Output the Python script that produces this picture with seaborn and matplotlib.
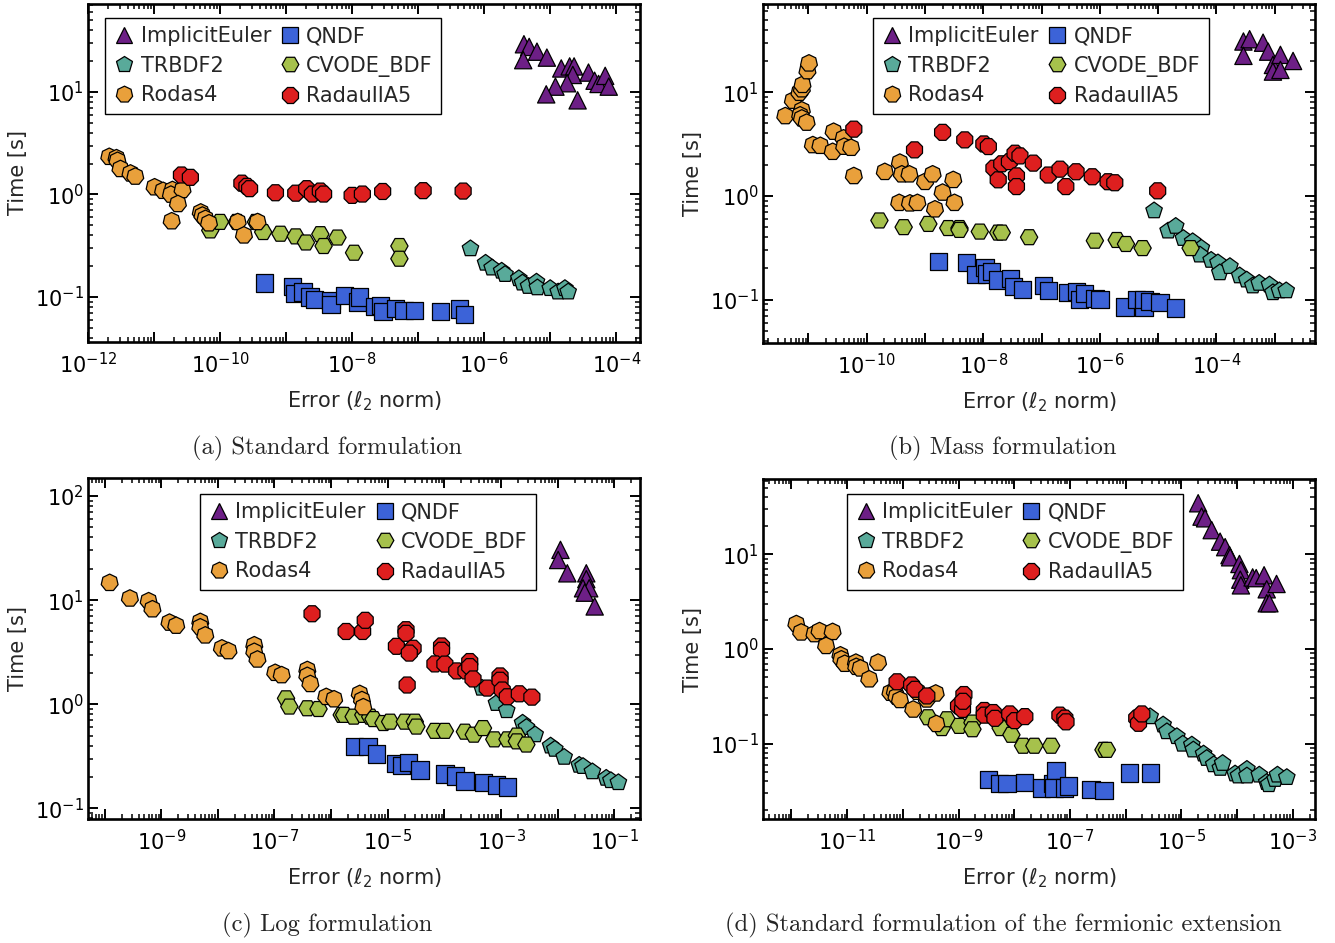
import numpy as np
import pandas as pd
import matplotlib
matplotlib.use("Agg")
import matplotlib.pyplot as plt
import matplotlib.ticker as mticker
from matplotlib.lines import Line2D
import seaborn as sns

# ---------------- data: panel (a) Standard formulation ----------------
a_ie_err = [4.0e-6, 4.8e-6, 3.9e-6, 6.3e-6, 8.9e-6, 1.47e-5, 1.97e-5, 2.3e-5, 2.2e-5, 1.8e-5,
            1.2e-5, 8.7e-6, 2.6e-5, 3.8e-5, 4.7e-5, 5.4e-5, 6.8e-5, 7.7e-5]
a_ie_time = [29.3, 27.6, 20.5, 24.8, 21.7, 17.0, 17.8, 17.8, 14.7, 12.2,
             11.3, 9.5, 8.3, 15.5, 12.9, 12.0, 14.4, 11.3]
a_qndf_err = [4.7e-10, 1.26e-9, 1.35e-9, 1.8e-9, 2.3e-9, 2.7e-9, 4.8e-9, 4.8e-9, 7.6e-9, 1.2e-8,
              1.3e-8, 2.2e-8, 2.7e-8, 2.95e-8, 4.5e-8, 6.1e-8, 8.7e-8, 2.2e-7, 4.2e-7, 5.0e-7]
a_qndf_time = [0.137, 0.127, 0.108, 0.112, 0.100, 0.094, 0.093, 0.085, 0.104, 0.089,
               0.100, 0.081, 0.083, 0.0715, 0.077, 0.074, 0.074, 0.0715, 0.076, 0.067]
a_trb_err = [6.2e-7, 1.05e-6, 1.32e-6, 1.84e-6, 2.07e-6, 3.35e-6, 3.8e-6, 4.7e-6, 6.2e-6, 6.4e-6,
             1.0e-5, 1.32e-5, 1.67e-5, 1.87e-5]
a_trb_time = [0.296, 0.214, 0.192, 0.179, 0.166, 0.151, 0.137, 0.127, 0.140, 0.123,
              0.121, 0.112, 0.121, 0.112]
a_cv_err = [7.1e-11, 1.0e-10, 1.8e-10, 3.5e-10, 4.5e-10, 8.2e-10, 1.4e-9, 2.0e-9, 3.3e-9, 3.7e-9,
            6.0e-9, 1.07e-8, 5.2e-8, 5.2e-8]
a_cv_time = [0.446, 0.54, 0.54, 0.54, 0.43, 0.414, 0.39, 0.34, 0.41, 0.314,
             0.38, 0.27, 0.314, 0.236]
a_rod_err = [2.1e-12, 2.7e-12, 2.8e-12, 3.1e-12, 4.4e-12, 5.2e-12, 1.02e-11, 1.37e-11, 1.9e-11, 1.8e-11,
             2.7e-11, 2.3e-11, 1.85e-11, 5.1e-11, 5.4e-11, 6.0e-11, 6.8e-11, 1.85e-10, 2.3e-10, 3.7e-10]
a_rod_time = [2.34, 2.27, 2.14, 1.78, 1.61, 1.50, 1.18, 1.09, 1.11, 1.00,
              1.11, 0.81, 0.55, 0.67, 0.625, 0.58, 0.525, 0.54, 0.40, 0.54]
a_rad_err = [2.6e-11, 3.55e-11, 2.14e-10, 2.55e-10, 2.8e-10, 6.9e-10, 1.4e-9, 2.05e-9, 2.5e-9, 3.3e-9,
             3.7e-9, 1.0e-8, 1.43e-8, 2.9e-8, 1.19e-7, 4.8e-7]
a_rad_time = [1.55, 1.47, 1.29, 1.20, 1.14, 1.04, 1.03, 1.14, 1.01, 1.08,
              1.01, 0.98, 1.01, 1.07, 1.09, 1.08]

# ---------------- data: panel (b) Mass formulation ----------------
b_ie_err = [2.9e-4, 3.7e-4, 2.9e-4, 6.3e-4, 7.7e-4, 9.3e-4, 1.25e-3, 9.3e-4, 1.25e-3, 2.06e-3]
b_ie_time = [30.8, 32.4, 22.4, 30.0, 24.6, 18.3, 22.9, 15.8, 16.4, 20.0]
b_qndf_err = [1.7e-9, 5.2e-9, 7.5e-9, 1.07e-8, 1.14e-8, 1.39e-8, 1.73e-8, 2.9e-8, 3.3e-8, 4.7e-8,
              1.07e-7, 1.3e-7, 2.85e-7, 4.0e-7, 4.5e-7, 5.5e-7, 8.2e-7, 1.0e-6, 2.7e-6, 4.3e-6,
              5.7e-6, 5.7e-6, 7.2e-6, 1.07e-5, 2.0e-5]
b_qndf_time = [0.232, 0.227, 0.176, 0.204, 0.177, 0.186, 0.155, 0.160, 0.133, 0.126,
               0.136, 0.122, 0.117, 0.120, 0.101, 0.115, 0.103, 0.100, 0.085, 0.100,
               0.085, 0.100, 0.096, 0.094, 0.083]
b_trb_err = [8.5e-6, 1.48e-5, 2.0e-5, 2.7e-5, 3.9e-5, 5.5e-5, 5.2e-5, 8.1e-5, 1.06e-4, 1.14e-4,
             1.7e-4, 2.5e-4, 3.3e-4, 4.2e-4, 5.4e-4, 8.1e-4, 9.3e-4, 1.2e-3, 1.57e-3]
b_trb_time = [0.72, 0.46, 0.51, 0.39, 0.363, 0.314, 0.27, 0.24, 0.227, 0.182,
              0.209, 0.17, 0.155, 0.136, 0.144, 0.139, 0.117, 0.122, 0.122]
b_cv_err = [1.65e-10, 4.3e-10, 1.14e-9, 2.5e-9, 3.9e-9, 3.9e-9, 8.7e-9, 1.8e-8, 2.07e-8, 6.1e-8,
            8.2e-7, 1.94e-6, 2.8e-6, 5.4e-6, 3.6e-5]
b_cv_time = [0.58, 0.50, 0.537, 0.49, 0.49, 0.47, 0.453, 0.443, 0.443, 0.40,
             0.37, 0.376, 0.344, 0.314, 0.314]
b_rod_err = [4.0e-12, 5.4e-12, 7.0e-12, 7.7e-12, 7.9e-12, 9.6e-12, 1.02e-11, 7.7e-12, 7.2e-12, 7.7e-12,
             9.3e-12, 1.19e-11, 1.6e-11, 2.7e-11, 2.6e-11, 4.0e-11, 4.1e-11, 5.4e-11, 6.0e-11, 2.04e-10,
             3.7e-10, 4.0e-10, 5.4e-10, 1.0e-9, 1.35e-9, 2.0e-9, 3.05e-9, 3.6e-10, 5.5e-10, 7.4e-10,
             1.48e-9, 3.2e-9]
b_rod_time = [5.9, 8.3, 9.9, 10.7, 11.8, 16.0, 19.0, 6.7, 6.0, 5.6,
              5.1, 3.1, 3.05, 4.17, 2.67, 3.6, 2.99, 2.92, 1.56, 1.71,
              2.1, 1.62, 1.62, 1.37, 1.62, 1.08, 1.43, 0.86, 0.85, 0.86,
              0.745, 0.86]
b_rad_err = [6.0e-11, 6.6e-10, 2.0e-9, 4.8e-9, 1.02e-8, 1.22e-8, 1.52e-8, 1.8e-8, 2.07e-8, 2.8e-8,
             3.5e-8, 3.7e-8, 3.7e-8, 4.25e-8, 7.2e-8, 1.3e-7, 2.07e-7, 2.6e-7, 3.9e-7, 7.4e-7,
             1.38e-6, 1.8e-6, 9.8e-6]
b_rad_time = [4.4, 2.78, 4.1, 3.47, 3.17, 2.99, 1.85, 1.43, 2.04, 2.14,
              2.58, 1.56, 1.23, 2.43, 2.07, 1.59, 1.81, 1.23, 1.71, 1.53,
              1.37, 1.34, 1.12]

# ---------------- data: panel (c) Log formulation ----------------
c_ie_err = [1.12e-2, 1.02e-2, 1.48e-2, 3.2e-2, 3.2e-2, 2.8e-2, 3.6e-2, 3.0e-2, 4.5e-2]
c_ie_time = [30.4, 24.3, 18.1, 18.1, 15.9, 13.0, 13.0, 11.8, 8.7]
c_qndf_err = [2.6e-6, 4.5e-6, 6.4e-6, 1.35e-5, 1.77e-5, 2.3e-5, 3.7e-5, 1.03e-4, 1.55e-4, 2.3e-4,
              4.9e-4, 8.4e-4, 1.3e-3]
c_qndf_time = [0.39, 0.39, 0.333, 0.271, 0.257, 0.275, 0.234, 0.214, 0.204, 0.183,
               0.177, 0.168, 0.160]
c_trb_err = [4.6e-4, 8.3e-4, 1.26e-3, 2.4e-3, 2.8e-3, 4.0e-3, 7.5e-3, 8.9e-3, 1.3e-2, 2.4e-2,
             2.8e-2, 4.1e-2, 7.2e-2, 8.7e-2, 0.118]
c_trb_time = [1.43, 1.02, 0.87, 0.66, 0.60, 0.51, 0.398, 0.37, 0.31, 0.26,
              0.253, 0.225, 0.195, 0.185, 0.177]
c_cv_err = [1.6e-7, 1.83e-7, 3.8e-7, 6.0e-7, 1.54e-6, 1.7e-6, 2.5e-6, 3.7e-6, 4.9e-6, 5.6e-6,
            8.4e-6, 1.1e-5, 2.0e-5, 3.0e-5, 3.2e-5, 6.8e-5, 1.02e-4, 2.3e-4, 3.3e-4, 4.8e-4,
            7.6e-4, 1.3e-3, 1.9e-3, 1.9e-3, 2.8e-3]
c_cv_time = [1.14, 0.95, 0.915, 0.90, 0.79, 0.79, 0.76, 0.79, 0.76, 0.72,
             0.66, 0.68, 0.68, 0.68, 0.61, 0.555, 0.555, 0.545, 0.51, 0.59,
             0.46, 0.46, 0.50, 0.44, 0.41]
c_rod_err = [1.23e-10, 2.8e-10, 6.0e-10, 7.0e-10, 1.4e-9, 1.84e-9, 4.9e-9, 4.9e-9, 6.0e-9, 1.18e-8,
             1.54e-8, 4.4e-8, 4.4e-8, 5.0e-8, 1.03e-7, 1.34e-7, 3.8e-7, 3.8e-7, 4.3e-7, 8.2e-7,
             1.13e-6, 3.2e-6, 3.5e-6, 3.7e-6]
c_rod_time = [14.7, 10.4, 9.8, 8.2, 6.1, 5.7, 6.2, 5.5, 4.6, 3.45,
              3.25, 3.7, 3.2, 2.7, 2.01, 1.91, 2.14, 1.88, 1.57, 1.18,
              1.12, 1.26, 1.10, 0.94]
c_rad_err = [4.6e-7, 1.84e-6, 3.6e-6, 4.0e-6, 1.42e-5, 2.1e-5, 2.1e-5, 2.8e-5, 2.4e-5, 2.2e-5,
             8.9e-5, 8.9e-5, 6.8e-5, 1.02e-4, 1.65e-4, 2.4e-4, 2.8e-4, 2.8e-4, 3.2e-4, 5.7e-4,
             9.6e-4, 9.6e-4, 1.05e-3, 1.29e-3, 2.1e-3, 3.5e-3]
c_rad_time = [7.4, 5.0, 5.0, 6.4, 3.6, 5.2, 4.8, 3.45, 3.1, 1.53,
              3.63, 3.3, 2.44, 2.43, 2.09, 2.09, 2.57, 2.3, 1.75, 1.43,
              1.87, 1.70, 1.37, 1.18, 1.26, 1.17]

# ---------------- data: panel (d) Standard formulation, fermionic extension ----------------
d_ie_err = [2.0e-5, 2.3e-5, 2.66e-5, 3.5e-5, 4.95e-5, 6.1e-5, 7.3e-5, 7.5e-5, 1.1e-4, 1.17e-4,
            1.14e-4, 1.17e-4, 1.9e-4, 2.2e-4, 3.05e-4, 3.4e-4, 5.1e-4, 3.4e-4, 3.8e-4]
d_ie_time = [34.6, 25.0, 24.0, 18.0, 13.6, 11.9, 9.8, 9.3, 7.9, 6.8,
             5.4, 4.7, 5.7, 5.6, 6.0, 4.27, 4.86, 3.04, 3.04]
d_qndf_err = [3.5e-9, 5.5e-9, 7.4e-9, 1.55e-8, 3.1e-8, 4.9e-8, 5.6e-8, 5.2e-8, 8.1e-8, 9.3e-8,
              2.4e-7, 4.1e-7, 1.16e-6, 2.8e-6]
d_qndf_time = [0.042, 0.038, 0.038, 0.039, 0.034, 0.038, 0.052, 0.034, 0.034, 0.0357,
               0.033, 0.032, 0.049, 0.049]
d_trb_err = [2.75e-6, 4.7e-6, 5.5e-6, 8.3e-6, 1.06e-5, 1.54e-5, 1.64e-5, 2.5e-5, 2.85e-5, 3.8e-5,
             5.0e-5, 5.5e-5, 9.2e-5, 1.06e-4, 1.5e-4, 1.5e-4, 2.5e-4, 3.4e-4, 3.7e-4, 4.8e-4,
             5.3e-4, 7.8e-4]
d_trb_time = [0.193, 0.158, 0.134, 0.119, 0.099, 0.097, 0.086, 0.078, 0.070, 0.060,
              0.055, 0.062, 0.048, 0.0457, 0.0537, 0.0457, 0.0467, 0.039, 0.037, 0.042,
              0.0467, 0.044]
d_cv_err = [2.85e-10, 5.0e-10, 6.2e-10, 1.03e-9, 1.78e-9, 1.78e-9, 5.7e-9, 8.9e-9, 1.44e-8, 2.3e-8,
            4.6e-8, 4.0e-7, 4.6e-7]
d_cv_time = [0.19, 0.146, 0.181, 0.154, 0.167, 0.142, 0.146, 0.124, 0.095, 0.095,
             0.095, 0.086, 0.086]
d_rod_err = [1.23e-12, 1.5e-12, 2.6e-12, 3.2e-12, 5.5e-12, 4.2e-12, 7.6e-12, 7.9e-12, 9.1e-12, 1.44e-11,
             1.46e-11, 1.74e-11, 2.5e-11, 3.6e-11, 6.0e-11, 7.2e-11, 7.7e-11, 8.9e-11, 1.54e-10, 1.82e-10,
             2.7e-10, 3.9e-10, 4.0e-10]
d_rod_time = [1.84, 1.50, 1.44, 1.55, 1.52, 1.08, 0.86, 0.78, 0.70, 0.72,
              0.65, 0.625, 0.48, 0.72, 0.346, 0.354, 0.314, 0.29, 0.23, 0.354,
              0.294, 0.34, 0.162]
d_rad_err = [7.9e-11, 1.44e-10, 1.65e-10, 2.7e-10, 1.0e-9, 1.18e-9, 1.25e-9, 1.2e-9, 2.9e-9, 2.9e-9,
             4.2e-9, 4.5e-9, 8.3e-9, 1.02e-8, 1.55e-8, 6.6e-8, 8.1e-8, 8.5e-8, 1.58e-6, 1.7e-6,
             1.95e-6]
d_rad_time = [0.45, 0.417, 0.375, 0.319, 0.25, 0.23, 0.33, 0.28, 0.224, 0.20,
              0.213, 0.185, 0.206, 0.175, 0.193, 0.20, 0.186, 0.17, 0.186, 0.164,
              0.206]

solvers = ["ImplicitEuler", "QNDF", "TRBDF2", "CVODE_BDF", "Rodas4", "RadauIIA5"]
colors = {"ImplicitEuler": "#6d1f86", "QNDF": "#3c63d8", "TRBDF2": "#59aa9a",
          "CVODE_BDF": "#a6c14c", "Rodas4": "#e9a03b", "RadauIIA5": "#de1f1f"}
markers = {"ImplicitEuler": "^", "QNDF": "s", "TRBDF2": "p",
           "CVODE_BDF": "H", "Rodas4": (7, 0, 0), "RadauIIA5": "8"}

panels = [
    dict(series=[(a_ie_err, a_ie_time), (a_qndf_err, a_qndf_time), (a_trb_err, a_trb_time),
                 (a_cv_err, a_cv_time), (a_rod_err, a_rod_time), (a_rad_err, a_rad_time)],
         xlim=(1e-12, 2.29e-4), ylim=(0.0363, 72.4), xlab=[-12, -10, -8, -6, -4],
         ylab=[-1, 0, 1], leg=(0.031, 0.959), caption="(a) Standard formulation",
         rect=[88, 4, 640, 342], cap=(327, 448)),
    dict(series=[(b_ie_err, b_ie_time), (b_qndf_err, b_qndf_time), (b_trb_err, b_trb_time),
                 (b_cv_err, b_cv_time), (b_rod_err, b_rod_time), (b_rad_err, b_rad_time)],
         xlim=(1.66e-12, 4.9e-3), ylim=(0.0382, 70.8), xlab=[-10, -8, -6, -4],
         ylab=[-1, 0, 1], leg=(0.199, 0.959), caption="(b) Mass formulation",
         rect=[763, 4, 1315, 343], cap=(1003, 448)),
    dict(series=[(c_ie_err, c_ie_time), (c_qndf_err, c_qndf_time), (c_trb_err, c_trb_time),
                 (c_cv_err, c_cv_time), (c_rod_err, c_rod_time), (c_rad_err, c_rad_time)],
         xlim=(5.1e-11, 0.284), ylim=(0.079, 149), xlab=[-9, -7, -5, -3, -1],
         ylab=[-1, 0, 1, 2], leg=(0.203, 0.953), caption="(c) Log formulation",
         rect=[88, 478, 640, 819], cap=(327, 925)),
    dict(series=[(d_ie_err, d_ie_time), (d_qndf_err, d_qndf_time), (d_trb_err, d_trb_time),
                 (d_cv_err, d_cv_time), (d_rod_err, d_rod_time), (d_rad_err, d_rad_time)],
         xlim=(3.1e-13, 2.5e-3), ylim=(0.016, 62.4), xlab=[-11, -9, -7, -5, -3],
         ylab=[-1, 0, 1], leg=(0.152, 0.956),
         caption="(d) Standard formulation of the fermionic extension",
         rect=[763, 479, 1315, 819], cap=(1003, 925)),
]

sns.set_theme(style="white")
plt.rcParams["font.family"] = ["DejaVu Sans"]
plt.rcParams["mathtext.fontset"] = "dejavusans"

W, H = 1335, 943
fig = plt.figure(figsize=(W / 100, H / 100), dpi=100)


def exp_formatter(allowed):
    def f(v, pos):
        if v <= 0:
            return ""
        e = int(round(np.log10(v)))
        if abs(np.log10(v) - e) > 1e-6 or e not in allowed:
            return ""
        return r"$10^{%d}$" % e
    return mticker.FuncFormatter(f)


for p in panels:
    l, t, r, b = p["rect"]
    ax = fig.add_axes([l / W, 1 - b / H, (r - l) / W, (b - t) / H])
    frames = []
    for name, (xe, yt) in zip(solvers, p["series"]):
        frames.append(pd.DataFrame({"err": xe, "time": yt, "solver": name}))
    df = pd.concat(frames, ignore_index=True)
    sns.scatterplot(data=df, x="err", y="time", hue="solver", style="solver",
                    hue_order=solvers, style_order=solvers, palette=colors,
                    markers=markers, s=155, edgecolor="black", linewidth=0.9,
                    legend=False, ax=ax, zorder=3)
    ax.set_xscale("log")
    ax.set_yscale("log")
    ax.set_xlim(*p["xlim"])
    ax.set_ylim(*p["ylim"])
    for axis, allowed in ((ax.xaxis, p["xlab"]), (ax.yaxis, p["ylab"])):
        axis.set_major_locator(mticker.LogLocator(base=10, numticks=30))
        axis.set_minor_locator(mticker.LogLocator(base=10, subs=np.arange(2, 10), numticks=30))
        axis.set_major_formatter(exp_formatter(allowed))
        axis.set_minor_formatter(mticker.NullFormatter())
    ax.tick_params(which="both", direction="in", top=True, right=True, bottom=True, left=True,
                   colors="black", labelsize=15)
    ax.tick_params(which="major", length=7, width=1.4)
    ax.tick_params(which="minor", length=3.5, width=1.1)
    ax.tick_params(axis="x", which="major", pad=7)
    ax.tick_params(axis="y", which="major", pad=3)
    for sp in ax.spines.values():
        sp.set_color("black")
        sp.set_linewidth(1.9)
    ax.set_xlabel(r"Error ($\ell_2$ norm)", fontsize=15, labelpad=9)
    ax.set_ylabel("Time [s]", fontsize=15, labelpad=5)

    handles = []
    for name in ["ImplicitEuler", "TRBDF2", "Rodas4", "QNDF", "CVODE_BDF", "RadauIIA5"]:
        handles.append(Line2D([], [], linestyle="none", marker=markers[name], markersize=12,
                              markerfacecolor=colors[name], markeredgecolor="black",
                              markeredgewidth=0.9, label=name))
    leg = ax.legend(handles=handles, ncol=2, loc="upper left", bbox_to_anchor=p["leg"],
                    borderaxespad=0, frameon=True, fancybox=False, fontsize=15,
                    handletextpad=0.3, columnspacing=0.4, labelspacing=0.45,
                    borderpad=0.4, handlelength=1.0)
    leg.get_frame().set_edgecolor("black")
    leg.get_frame().set_linewidth(1.0)
    leg.get_frame().set_alpha(1)

    cx, cy = p["cap"]
    fig.text(cx / W, 1 - cy / H, p["caption"], ha="center", va="center",
             fontsize=17.7, family="cmr10")

fig.savefig("out.png", dpi=100)
